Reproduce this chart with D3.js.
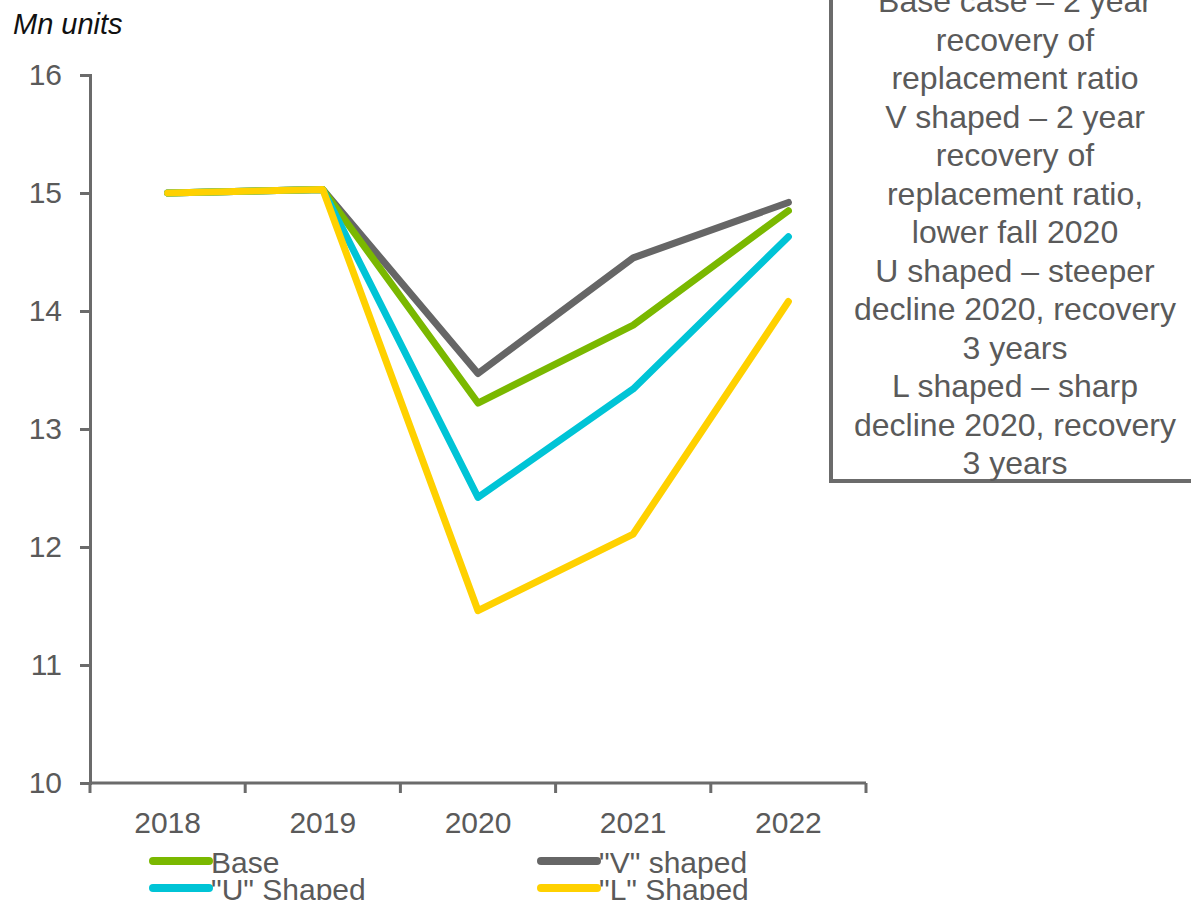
<!DOCTYPE html>
<html>
<head>
<meta charset="utf-8">
<script src="https://cdn.jsdelivr.net/npm/d3@7"></script>
<style>
  body { margin: 0; background: #fff; }
  svg { display: block; font-family: "Liberation Sans", Arial, sans-serif; }
</style>
</head>
<body>
<svg width="1191" height="900"></svg>
<script>
// chart data
var years = ["2018", "2019", "2020", "2021", "2022"];
var baseCase = [15.0, 15.03, 13.22, 13.88, 14.85];
var vShaped = [15.0, 15.03, 13.47, 14.45, 14.92];
var uShaped = [15.0, 15.03, 12.42, 13.34, 14.63];
var lShaped = [15.0, 15.03, 11.46, 12.11, 14.08];
var yTicks = [10, 11, 12, 13, 14, 15, 16];
var seriesNames = ["Base", "\"V\" shaped", "\"U\" Shaped", "\"L\" Shaped"];
var seriesColors = ["#7ab800", "#666666", "#00c4d6", "#ffd100"];
var noteLines = [
    "Base case \u2013 2 year",
    "recovery of",
    "replacement ratio",
    "V shaped \u2013 2 year",
    "recovery of",
    "replacement ratio,",
    "lower fall 2020",
    "U shaped \u2013 steeper",
    "decline 2020, recovery",
    "3 years",
    "L shaped \u2013 sharp",
    "decline 2020, recovery",
    "3 years"
];

var series = [baseCase, vShaped, uShaped, lShaped];
var axisColor = "#6b6b6b";
var textColor = "#5a5a5a";

var svg = d3.select("svg");

var x = d3.scaleBand().domain(years).range([90, 866]);
var y = d3.scaleLinear().domain([10, 16]).range([783, 75]);

// y axis
var yAxis = svg.append("g")
    .attr("transform", "translate(90,0)")
    .call(d3.axisLeft(y).tickValues(yTicks).tickSize(10).tickPadding(18).tickFormat(d3.format("d")));
yAxis.select(".domain").attr("stroke", axisColor).attr("stroke-width", 3);
yAxis.selectAll(".tick line").attr("stroke", axisColor).attr("stroke-width", 3);
yAxis.selectAll(".tick text")
    .attr("fill", textColor)
    .style("font-size", "30px");

// x axis, ticks between categories
var xAxis = svg.append("g")
    .attr("transform", "translate(0,783)");
xAxis.append("line")
    .attr("x1", 90).attr("x2", 866)
    .attr("stroke", axisColor).attr("stroke-width", 3);
xAxis.selectAll("line.tk")
    .data(years.concat(["end"]))
    .enter().append("line")
    .attr("class", "tk")
    .attr("x1", function(d, i) { return i < years.length ? x(d) : x.range()[1]; })
    .attr("x2", function(d, i) { return i < years.length ? x(d) : x.range()[1]; })
    .attr("y1", 0).attr("y2", 10)
    .attr("stroke", axisColor).attr("stroke-width", 3);
xAxis.selectAll("text")
    .data(years)
    .enter().append("text")
    .attr("x", function(d) { return x(d) + x.bandwidth() / 2; })
    .attr("y", 50)
    .attr("text-anchor", "middle")
    .attr("fill", textColor)
    .style("font-size", "30px")
    .text(function(d) { return d; });

// unit label
svg.append("text")
    .attr("x", 13).attr("y", 34)
    .style("font-size", "29px")
    .style("font-style", "italic")
    .attr("fill", "#111")
    .text("Mn units");

// lines (yellow drawn last so it sits on top at 2018-2019)
var line = d3.line()
    .x(function(d, i) { return x(years[i]) + x.bandwidth() / 2; })
    .y(function(d) { return y(d); });

var order = [1, 0, 2, 3];
svg.append("g").selectAll("path")
    .data(order)
    .enter().append("path")
    .attr("d", function(k) { return line(series[k]); })
    .attr("fill", "none")
    .attr("stroke", function(k) { return seriesColors[k]; })
    .attr("stroke-width", 7)
    .attr("stroke-linecap", "round")
    .attr("stroke-linejoin", "round");

// legend
var legendPos = [[153, 861], [541, 861], [153, 888], [541, 888]];
var legend = svg.append("g").selectAll("g")
    .data(seriesNames)
    .enter().append("g")
    .attr("transform", function(d, i) { return "translate(" + legendPos[i][0] + "," + legendPos[i][1] + ")"; });
legend.append("line")
    .attr("x1", 0).attr("x2", 56)
    .attr("stroke", function(d, i) { return seriesColors[i]; })
    .attr("stroke-width", 8)
    .attr("stroke-linecap", "round");
legend.append("text")
    .attr("x", 58).attr("y", 12)
    .attr("fill", textColor)
    .style("font-size", "30px")
    .text(function(d) { return d; });

// note box
svg.append("rect")
    .attr("x", 831).attr("y", -10)
    .attr("width", 400).attr("height", 491)
    .attr("fill", "#fff")
    .attr("stroke", axisColor)
    .attr("stroke-width", 4);
svg.append("g").selectAll("text")
    .data(noteLines)
    .enter().append("text")
    .attr("x", 1015)
    .attr("y", function(d, i) { return 12 + i * 38.5; })
    .attr("text-anchor", "middle")
    .attr("fill", textColor)
    .style("font-size", "32px")
    .text(function(d) { return d; });
</script>
</body>
</html>
